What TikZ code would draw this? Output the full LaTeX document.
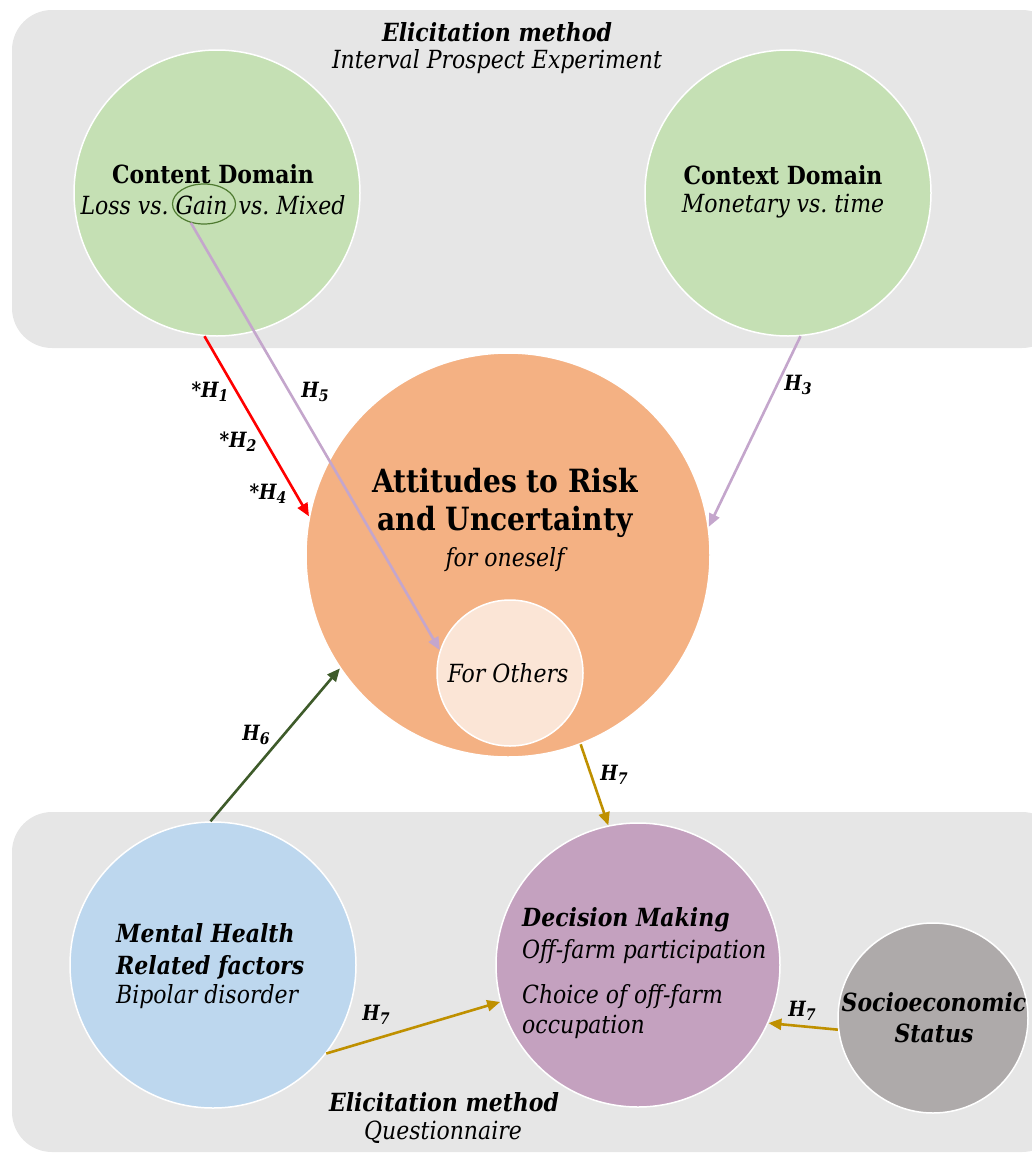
\documentclass[tikz,border=0pt]{standalone}
\usepackage{fontspec}
\setmainfont[FakeStretch=0.88]{DejaVu Serif}
\usetikzlibrary{arrows.meta,shapes.geometric}

\definecolor{panelgray}{HTML}{E6E6E6}
\definecolor{domgreen}{HTML}{C5E0B4}
\definecolor{riskorange}{HTML}{F4B183}
\definecolor{otherpeach}{HTML}{FBE5D6}
\definecolor{mentalblue}{HTML}{BDD7EE}
\definecolor{decmauve}{HTML}{C4A1BF}
\definecolor{socgray}{HTML}{AEAAAA}
\definecolor{linkpurple}{HTML}{C4A6CC}
\definecolor{linkgreen}{HTML}{3E5B2A}
\definecolor{linkgold}{HTML}{BF9000}
\definecolor{ringgreen}{HTML}{4E7A30}

\tikzset{
  panel/.style={fill=panelgray, draw=none, rounded corners=40pt},
  bubble/.style={circle, draw=white, line width=1.5pt, inner sep=0pt},
  txt/.style={inner sep=0pt, font=\fontsize{25}{31}\selectfont, align=center},
  txtl/.style={inner sep=0pt, font=\fontsize{25}{31}\selectfont, align=left, anchor=west},
  hlab/.style={inner sep=0pt, font=\fontsize{21}{23}\selectfont\bfseries\itshape},
  link/.style={line width=2.6pt, -{Triangle[length=13pt,width=11pt]}},
}
\newcommand{\hyp}[1]{H\raisebox{-0.18em}{\fontsize{16}{17}\selectfont #1}}

\begin{document}
\begin{tikzpicture}[x=1pt, y=-1pt]
\useasboundingbox (0,0) rectangle (1032,1154);

% background panels
\fill[panel] (12,10) rectangle (1062,348);
\fill[panel] (12,812) rectangle (1062,1152);

% circles
\node[bubble, fill=domgreen, minimum size=286pt] (content) at (217,193) {};
\node[bubble, fill=domgreen, minimum size=286pt] (context) at (788,193) {};
\node[bubble, fill=riskorange, minimum size=404pt] (att) at (508,555) {};
\node[bubble, fill=otherpeach, minimum size=146pt] (others) at (510,673) {};
\node[bubble, fill=mentalblue, minimum size=286pt] (mental) at (213,965) {};
\node[bubble, fill=decmauve, minimum size=284pt] (dec) at (638,965) {};
\node[bubble, fill=socgray, minimum size=190pt] (socio) at (933,1018) {};

% panel headings
\node[txt] (elic1) at (497,32) {\bfseries\itshape Elicitation method};
\node[txt] (elic1b) at (497,62) {\itshape Interval Prospect Experiment};
\node[txt] (elic2) at (444,1102) {\bfseries\itshape Elicitation method};
\node[txt] (elic2b) at (443,1132) {\itshape Questionnaire};

% circle texts
\node[txt] (contentT) at (213,174) {\bfseries Content Domain};
\node[txt] (contentS) at (213,205) {\itshape Loss vs.\ Gain\,\ vs.\ Mixed};
\node[draw=ringgreen, line width=1.2pt, ellipse, minimum width=63pt, minimum height=40pt, inner sep=0pt] (gain) at (204,204) {};
\node[txt] (contextT) at (783,175) {\bfseries Context Domain};
\node[txt] (contextS) at (783,206) {\itshape Monetary vs.\ time};
\node[txt, font=\fontsize{32}{38}\selectfont\bfseries] (attT) at (505,503) {Attitudes to Risk\\and Uncertainty};
\node[txt] (attS) at (505,560) {\itshape for oneself};
\node[txt] (othersT) at (508,673) {\itshape For Others};
\node[txtl, font=\fontsize{25}{32}\selectfont] (mentalT) at (116,951) {\bfseries\itshape Mental Health\\\bfseries\itshape Related factors};
\node[txtl] (mentalS) at (116,997) {\itshape Bipolar disorder};
\node[txtl] (decT) at (522,920) {\bfseries\itshape Decision Making};
\node[txtl] (decS) at (522,952) {\itshape Off-farm participation};
\node[txtl, font=\fontsize{25}{30}\selectfont] (decS2) at (522,1012) {\itshape Choice of off-farm\\\itshape occupation};
\node[txt, font=\fontsize{25}{31}\selectfont\bfseries\itshape] (socioT) at (934,1018) {Socioeconomic\\Status};

% connectors
\draw[link, red] (content.-95) -- (att.169);
\draw[link, linkpurple] (gain.235) -- (others.162);
\draw[link, linkpurple] (context.-85) -- (att.8);
\draw[link, linkgreen] (mental.91) -- (att.214);
\draw[link, linkgold] (att.-69.5) -- (dec.102.7);
\draw[link, linkgold] (mental.-38) -- (dec.195.4);
\draw[link, linkgold] (socio.187) -- (dec.-24.7);

% hypothesis labels
\node[hlab] (h1) at (210,392) {*\hyp{1}};
\node[hlab] (h2) at (238,442) {*\hyp{2}};
\node[hlab] (h4) at (268,494) {*\hyp{4}};
\node[hlab] (h5) at (315,392) {\hyp{5}};
\node[hlab] (h3) at (798,385) {\hyp{3}};
\node[hlab] (h6) at (256,735) {\hyp{6}};
\node[hlab] (h7a) at (614,775) {\hyp{7}};
\node[hlab] (h7b) at (376,1015) {\hyp{7}};
\node[hlab] (h7c) at (802,1011) {\hyp{7}};
\end{tikzpicture}
\end{document}
